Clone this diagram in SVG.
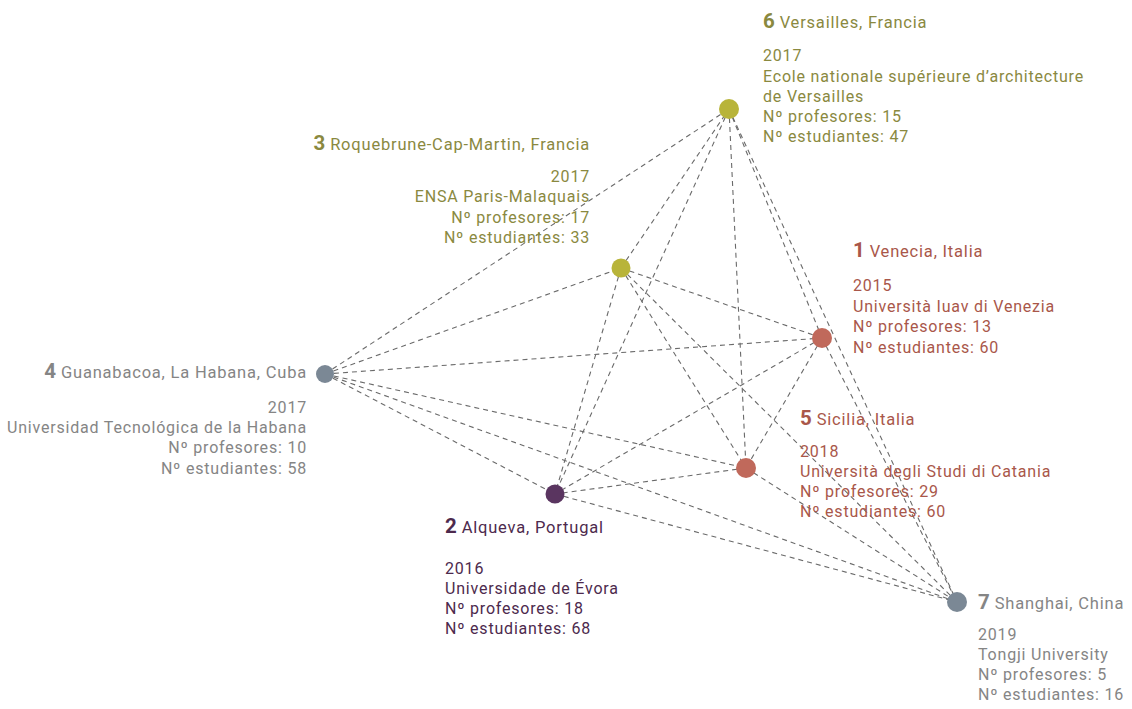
<svg xmlns="http://www.w3.org/2000/svg" width="1132" height="709" viewBox="0 0 1132 709">
<style>
text{font-family:Roboto,"Liberation Sans",sans-serif;font-size:16px;font-weight:400;letter-spacing:0.8px}
.hd{font-size:16.5px}
.num{font-size:20.5px;font-weight:700;letter-spacing:0}
.olive{fill:#8a893f}
.red{fill:#a9574a}
.purple{fill:#4d2a4d}
.gray{fill:#858585}
.end{text-anchor:end}
#edges line{stroke:#6a6a6a;stroke-width:1.1;stroke-dasharray:5 4;fill:none}
</style>
<rect width="1132" height="709" fill="#ffffff"/>
<g id="edges">
<line x1="325" y1="374" x2="729" y2="109"/>
<line x1="325" y1="374" x2="621" y2="268"/>
<line x1="325" y1="374" x2="822" y2="338"/>
<line x1="325" y1="374" x2="746" y2="468"/>
<line x1="325" y1="374" x2="555" y2="494"/>
<line x1="325" y1="374" x2="957" y2="602"/>
<line x1="621" y1="268" x2="729" y2="109"/>
<line x1="621" y1="268" x2="822" y2="338"/>
<line x1="621" y1="268" x2="746" y2="468"/>
<line x1="621" y1="268" x2="555" y2="494"/>
<line x1="621" y1="268" x2="957" y2="602"/>
<line x1="729" y1="109" x2="822" y2="338"/>
<line x1="729" y1="109" x2="746" y2="468"/>
<line x1="729" y1="109" x2="555" y2="494"/>
<line x1="729" y1="109" x2="957" y2="602"/>
<line x1="822" y1="338" x2="746" y2="468"/>
<line x1="822" y1="338" x2="555" y2="494"/>
<line x1="822" y1="338" x2="957" y2="602"/>
<line x1="746" y1="468" x2="555" y2="494"/>
<line x1="746" y1="468" x2="957" y2="602"/>
<line x1="555" y1="494" x2="957" y2="602"/>
</g>
<g id="node6">
<circle cx="729" cy="109" r="10" fill="#b8b43a"/>
<text class="olive hd" x="763" y="28"><tspan class="num">6</tspan> Versailles, Francia</text>
<text class="olive" x="763" y="61">2017</text>
<text class="olive" x="763" y="81.5">Ecole nationale supérieure d’architecture</text>
<text class="olive" x="763" y="101.5">de Versailles</text>
<text class="olive" x="763" y="121.7">Nº profesores: 15</text>
<text class="olive" x="763" y="142">Nº estudiantes: 47</text>
</g>
<g id="node3">
<circle cx="621" cy="268" r="9.5" fill="#b8b43a"/>
<text class="olive hd end" x="590" y="150"><tspan class="num">3</tspan> Roquebrune-Cap-Martin, Francia</text>
<text class="olive end" x="590" y="182">2017</text>
<text class="olive end" x="590" y="202">ENSA Paris-Malaquais</text>
<text class="olive end" x="590" y="222.5">Nº profesores: 17</text>
<text class="olive end" x="590" y="243">Nº estudiantes: 33</text>
</g>
<g id="node1">
<circle cx="822" cy="338" r="10" fill="#c0695b"/>
<text class="red hd" x="853" y="257"><tspan class="num">1</tspan> Venecia, Italia</text>
<text class="red" x="853" y="291">2015</text>
<text class="red" x="853" y="312">Università Iuav di Venezia</text>
<text class="red" x="853" y="332">Nº profesores: 13</text>
<text class="red" x="853" y="352.5">Nº estudiantes:  60</text>
</g>
<g id="node4">
<circle cx="325" cy="374" r="9" fill="#7b8895"/>
<text class="gray hd end" x="307" y="378"><tspan class="num">4</tspan> Guanabacoa, La Habana, Cuba</text>
<text class="gray end" x="307" y="413">2017</text>
<text class="gray end" x="307" y="433">Universidad Tecnológica de la Habana</text>
<text class="gray end" x="307" y="453">Nº profesores: 10</text>
<text class="gray end" x="307" y="474">Nº estudiantes: 58</text>
</g>
<g id="node5">
<circle cx="746" cy="468" r="10" fill="#c0695b"/>
<text class="red hd" x="800" y="425"><tspan class="num">5</tspan> Sicilia, Italia</text>
<text class="red" x="800" y="457">2018</text>
<text class="red" x="800" y="477">Università degli Studi di Catania</text>
<text class="red" x="800" y="497">Nº profesores: 29</text>
<text class="red" x="800" y="517">Nº estudiantes: 60</text>
</g>
<g id="node2">
<circle cx="555" cy="494" r="9.5" fill="#5a3560"/>
<text class="purple hd" x="445" y="533"><tspan class="num">2</tspan> Alqueva, Portugal</text>
<text class="purple" x="445" y="574">2016</text>
<text class="purple" x="445" y="594">Universidade de Évora</text>
<text class="purple" x="445" y="614">Nº profesores: 18</text>
<text class="purple" x="445" y="634">Nº estudiantes: 68</text>
</g>
<g id="node7">
<circle cx="957" cy="602" r="10" fill="#7b8895"/>
<text class="gray hd" x="978" y="609"><tspan class="num">7</tspan> Shanghai, China</text>
<text class="gray" x="978" y="640">2019</text>
<text class="gray" x="978" y="660">Tongji University</text>
<text class="gray" x="978" y="680">Nº profesores: 5</text>
<text class="gray" x="978" y="700">Nº estudiantes: 16</text>
</g>
</svg>
